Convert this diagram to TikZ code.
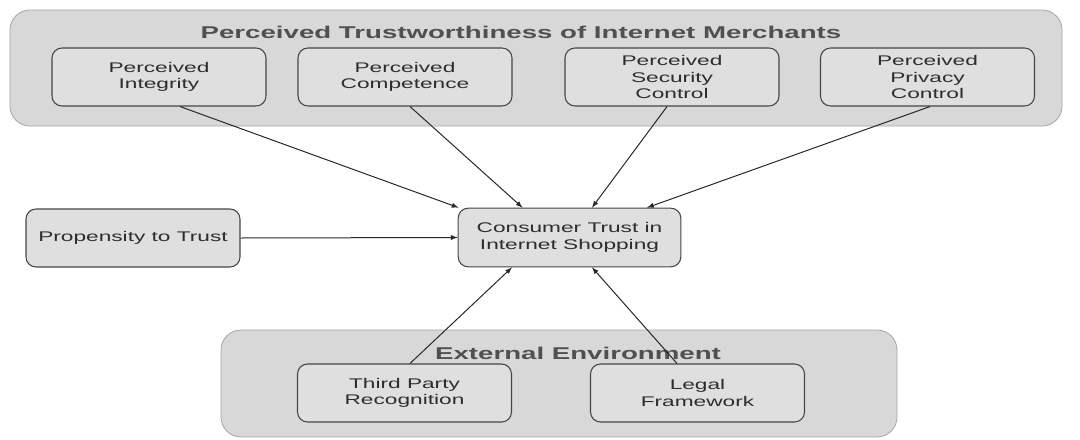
\documentclass[tikz,border=0pt]{standalone}
\usepackage{fontspec}
\setmainfont{Liberation Sans}[FakeStretch=1.62]
\usetikzlibrary{calc}

\begin{document}
\begin{tikzpicture}[x=0.75pt,y=0.75pt,yscale=-1,xscale=1,
  grp/.style={draw={rgb, 255:red, 165; green, 165; blue, 165 }, fill={rgb, 255:red, 216; green, 216; blue, 216 }, rounded corners=15pt, line width=0.6},
  grptitle/.style={inner sep=0.75pt, text={rgb, 255:red, 80; green, 80; blue, 80 }, font=\fontsize{12.8}{15}\selectfont\bfseries},
  box/.style={draw={rgb, 255:red, 70; green, 70; blue, 70 }, fill={rgb, 255:red, 223; green, 223; blue, 223 }, rounded corners=7.5pt, line width=0.8, minimum width=160.5pt, minimum height=43.5pt, inner sep=0pt, align=center, text={rgb, 255:red, 45; green, 45; blue, 45 }, font=\fontsize{10.5}{12.3}\selectfont},
  conn/.style={->, >=latex, draw={rgb, 255:red, 40; green, 40; blue, 40 }, line width=0.75}
]
\useasboundingbox (0,0) rectangle (1080,439);

\draw [grp] (10,10) rectangle (1062,126) ;
\draw [grp] (221,330) rectangle (897,437) ;

\draw (521,32) node [grptitle] (ttrust) {Perceived Trustworthiness of Internet Merchants};
\draw (578,353) node [grptitle] (tenv) {External Environment};

\draw (159,77) node [box] (integ) {Perceived\\Integrity};
\draw (405,77) node [box] (compet) {Perceived\\Competence};
\draw (672,77) node [box] (secur) {Perceived\\Security\\Control};
\draw (927.5,77) node [box] (priv) {Perceived\\Privacy\\Control};
\draw (133,238) node [box] (prop) {Propensity to Trust};
\draw (569.5,237.5) node [box, minimum width=167pt, minimum height=44pt] (trust) {Consumer Trust in\\Internet Shopping};
\draw (404.5,393) node [box] (third) {Third Party\\Recognition};
\draw (697.5,393) node [box] (legal) {Legal\\Framework};

\draw [conn] ($(integ.south)+(21,0)$) -- ($(trust.north)+(-111,0)$) ;
\draw [conn] ($(compet.south)+(5,0)$) -- ($(trust.north)+(-47,0)$) ;
\draw [conn] ($(secur.south)+(-5,0)$) -- ($(trust.north)+(22.5,0)$) ;
\draw [conn] ($(priv.south)+(2.5,0)$) -- ($(trust.north)+(77.5,0)$) ;
\draw [conn] (prop.east) -- (trust.west) ;
\draw [conn] ($(third.north)+(5.5,0)$) -- ($(trust.south)+(-57.5,0)$) ;
\draw [conn] ($(legal.north)+(-20.5,0)$) -- ($(trust.south)+(22.5,0)$) ;

\end{tikzpicture}
\end{document}
